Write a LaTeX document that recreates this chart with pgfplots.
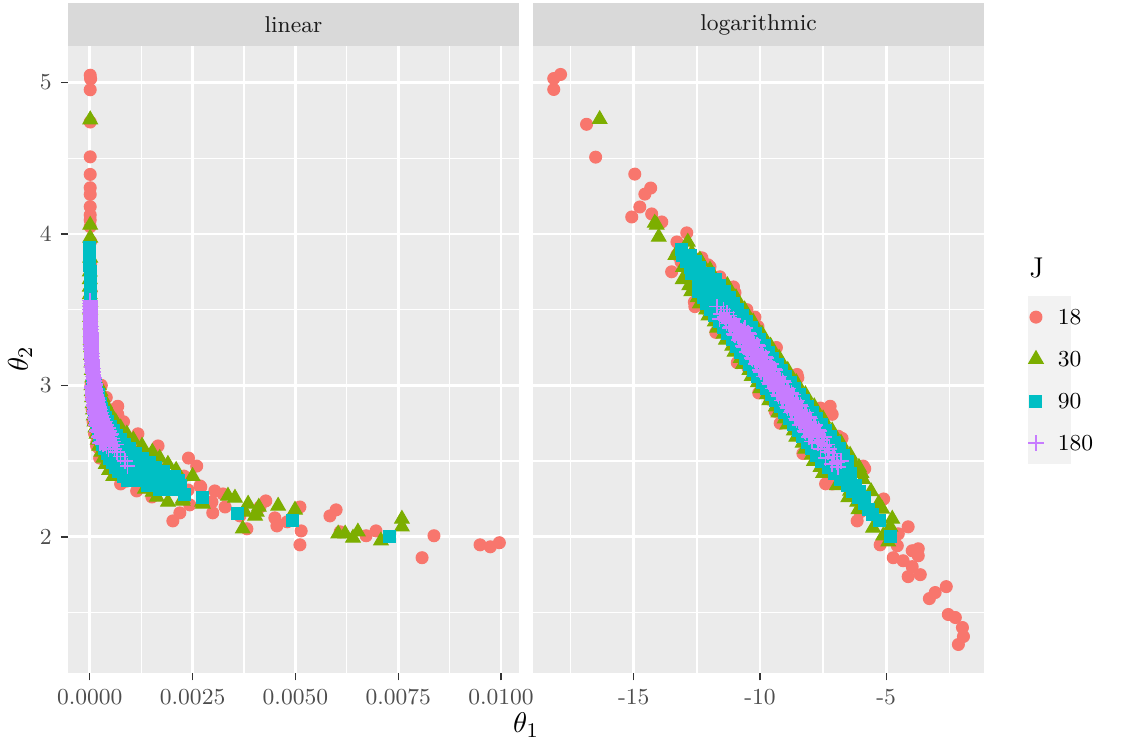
\documentclass[border=0pt]{standalone}
\usepackage{fontspec}
\usepackage{pgfplots}
\pgfplotsset{compat=1.18}
\definecolor{cA}{HTML}{F8766D}
\definecolor{cB}{HTML}{7CAE00}
\definecolor{cC}{HTML}{00BFC4}
\definecolor{cD}{HTML}{C77CFF}
\definecolor{panelbg}{HTML}{EBEBEB}
\definecolor{stripbg}{HTML}{D9D9D9}
\definecolor{keybg}{HTML}{F2F2F2}
\definecolor{ticktext}{HTML}{4D4D4D}
\definecolor{tickline}{HTML}{333333}
\definecolor{striptext}{HTML}{1A1A1A}
\newcommand{\ggsmall}{\fontsize{8.8}{10}\selectfont}

\pgfplotsset{
  facet/.style={
    scale only axis, width=173.4pt, height=241.0pt, anchor=south west,
    ymin=1.10, ymax=5.24,
    axis background/.style={fill=panelbg},
    axis line style={draw=none},
    grid=both,
    major grid style={white, line width=1.07pt},
    minor grid style={white, line width=0.53pt},
    tick align=outside, major tick length=2.75pt, minor tick length=0pt,
    tick style={tickline, line width=0.53pt},
    xtick pos=bottom, ytick pos=left,
    ytick={2,3,4,5}, minor ytick={1.5,2.5,3.5,4.5},
    ticklabel style={font=\ggsmall, text=ticktext},
    scaled x ticks=false,
  },
  p18/.style={only marks, mark=*, mark size=2.3pt, color=cA, mark options={draw=none}},
  p30/.style={only marks, mark=triangle*, mark size=3.2pt, color=cB, mark options={draw=none}},
  p90/.style={only marks, mark=square*, mark size=2.3pt, color=cC, mark options={draw=none}},
  p180/.style={only marks, mark=+, mark size=3.0pt, color=cD, mark options={line width=0.6pt}},
  lk/.style={legend image code/.code={\draw[##1, mark repeat=2, mark phase=2] plot coordinates {(0pt,0pt) (8.27pt,0pt) (16.54pt,0pt)};}},
}

\begin{document}
\begin{tikzpicture}
\path[use as bounding box] (0pt,0pt) rectangle (433.6pt,286.8pt);

% strips
\fill[stripbg] (26.14pt,269.1pt) rectangle (199.5pt,285.6pt);
\fill[stripbg] (204.9pt,269.1pt) rectangle (378.3pt,285.6pt);
\node[font=\ggsmall, text=striptext] at (112.8pt,277.4pt) {linear};
\node[font=\ggsmall, text=striptext] at (291.6pt,277.4pt) {logarithmic};

% legend key background and title
\fill[keybg] (395.2pt,108.4pt) rectangle (411.7pt,173.0pt);
\node[anchor=west, inner sep=0pt, font=\fontsize{11}{13}\selectfont] at (395.5pt,183.7pt) {J};

% axis titles
\node[font=\fontsize{11}{13}\selectfont] at (202.2pt,8.07pt) {$\theta_1$};
\node[font=\fontsize{11}{13}\selectfont, rotate=90] at (7.69pt,148.8pt) {$\theta_2$};

\begin{axis}[facet, at={(26.14pt,28.06pt)},
  xmin=-0.00053, xmax=0.01044,
  xtick={0,0.0025,0.005,0.0075,0.01},
  xticklabels={0.0000,0.0025,0.0050,0.0075,0.0100},
  minor xtick={0.00125,0.00375,0.00625,0.00875},
  yticklabels={2,3,4,5},
]
% J = 18
\addplot[p18] coordinates {
(0.00001,5.048)(0.00002,5.024)(0.00001,4.952)(0.00001,4.739)(0.00001,4.509)(0.00001,4.393)
(0.00001,4.305)(0.00001,4.261)(0.00001,4.180)(0.00001,4.125)(0.00001,4.092)(0.00001,4.048)
(0.00002,3.95)(0.00002,3.80)(0.00003,3.62)(0.00004,3.45)(0.00005,3.30)(0.00007,3.12)
(0.000028,3.00)(0.00028,3.00)(0.00004,2.92)(0.0004,2.92)(0.000057,2.84)(0.00057,2.84)
(0.00008,2.76)(0.00082,2.76)(0.000117,2.68)(0.00117,2.68)(0.000166,2.60)(0.00166,2.60)
(0.00024,2.52)(0.0024,2.52)
(0.00068,2.862)(0.00068,2.809)(0.00066,2.724)(0.00090,2.658)(0.00114,2.599)(0.00153,2.500)
(0.00260,2.467)(0.00207,2.401)(0.00229,2.401)(0.00268,2.336)(0.00075,2.349)(0.00114,2.303)
(0.00151,2.263)(0.00202,2.105)(0.00219,2.158)(0.00243,2.211)(0.00297,2.230)(0.00299,2.158)
(0.00304,2.303)(0.00324,2.283)(0.00329,2.197)(0.00365,2.138)(0.00382,2.053)(0.00428,2.237)
(0.00450,2.125)(0.00455,2.072)(0.00480,2.099)(0.00511,2.197)(0.00514,2.039)(0.00511,1.947)
(0.00584,2.138)(0.00599,2.178)(0.00609,2.033)(0.00672,2.007)(0.00696,2.039)(0.00808,1.862)
(0.00837,2.007)(0.00949,1.947)(0.00974,1.934)(0.00996,1.961)
(0.00017,2.625)(0.00024,2.579)(0.00037,2.526)(0.00054,2.447)(0.00090,2.368)(0.00134,2.329)
(0.00170,2.447)(0.00239,2.309)(0.00270,2.329)(0.00414,2.197)
};
% J = 30
\addplot[p30] coordinates {
(0.00001,4.755)(0.00001,4.059)(0.00001,3.974)(0.00001,3.842)(0,3.75)(0,3.70)(0,3.65)(0,3.60)
(0.00001,3.55)(0.00001,3.50)(0.00001,3.45)(0.00001,3.40)(0.00002,3.35)(0.00002,3.30)
(0.00003,3.25)(0.00003,3.20)(0.00004,3.15)(0.00005,3.10)(0.00006,3.05)
(0.00004,3.00)(0.00022,3.00)(0.000047,2.96)(0.00026,2.96)(0.000056,2.92)(0.00031,2.92)
(0.000067,2.88)(0.00037,2.88)(0.00008,2.84)(0.00044,2.84)(0.000096,2.80)(0.00053,2.80)
(0.000114,2.76)(0.00063,2.76)(0.000137,2.72)(0.00075,2.72)(0.000164,2.68)(0.0009,2.68)
(0.000194,2.64)(0.00106,2.64)(0.00023,2.60)(0.00127,2.60)(0.00028,2.56)(0.00152,2.56)
(0.00033,2.52)(0.00170,2.52)(0.00039,2.48)(0.00190,2.48)(0.00047,2.44)(0.0021,2.44)
(0.00057,2.40)(0.0025,2.40)(0.00075,2.43)(0.00100,2.40)
(0.00127,2.579)(0.00153,2.296)(0.00122,2.566)(0.00170,2.447)
(0.00134,2.316)(0.00163,2.263)(0.00190,2.230)(0.00226,2.250)(0.00273,2.230)(0.00336,2.270)
(0.00353,2.257)(0.00385,2.217)(0.00377,2.164)(0.00406,2.164)(0.00411,2.197)(0.00458,2.204)
(0.00499,2.178)(0.00372,2.053)(0.00604,2.020)(0.00621,2.020)(0.00640,1.993)(0.00652,2.033)
(0.00708,1.974)(0.00759,2.118)(0.00759,2.066)(0.00226,2.303)(0.00226,2.237)(0.00275,2.217)
(0.00402,2.138)
};
% J = 90
\addplot[p90] coordinates {
(0.000003,3.91)(0.000003,3.87)(0.000004,3.83)(0.000004,3.79)(0.000005,3.75)(0.000005,3.71)
(0.000006,3.67)(0.000007,3.63)(0.000008,3.59)(0.00001,3.55)(0.000011,3.51)(0.000013,3.47)
(0.000015,3.43)(0.000018,3.39)(0.000021,3.35)(0.000025,3.31)(0.00003,3.27)(0.000035,3.23)
(0.000042,3.19)(0.00005,3.15)(0.000059,3.11)(0.00007,3.07)(0.000083,3.03)
(0.000056,3.00)(0.000094,3.00)(0.00015,3.00)(0.000065,2.97)(0.000108,2.97)(0.00017,2.97)
(0.000074,2.94)(0.000123,2.94)(0.0002,2.94)(0.000084,2.91)(0.00014,2.91)(0.00022,2.91)
(0.000096,2.88)(0.00016,2.88)(0.00026,2.88)(0.00011,2.85)(0.000183,2.85)(0.00029,2.85)
(0.000126,2.82)(0.00021,2.82)(0.00034,2.82)(0.000143,2.79)(0.000238,2.79)(0.00038,2.79)
(0.000163,2.76)(0.00027,2.76)(0.00044,2.76)(0.000186,2.73)(0.00031,2.73)(0.0005,2.73)
(0.00021,2.70)(0.00036,2.70)(0.00057,2.70)(0.00024,2.67)(0.000408,2.67)(0.00065,2.67)
(0.00028,2.64)(0.00046,2.64)(0.00074,2.64)(0.00032,2.61)(0.00053,2.61)(0.00085,2.61)
(0.00036,2.58)(0.0006,2.58)(0.00097,2.58)(0.00042,2.55)(0.000693,2.55)(0.00111,2.55)
(0.00048,2.52)(0.00063,2.52)(0.00079,2.52)(0.001,2.52)(0.00127,2.52)
(0.00054,2.49)(0.0007,2.49)(0.0009,2.49)(0.00115,2.49)(0.00144,2.49)
(0.00062,2.46)(0.00082,2.46)(0.00103,2.46)(0.0013,2.46)(0.00160,2.46)
(0.00071,2.43)(0.00095,2.43)(0.00118,2.43)(0.0015,2.43)(0.00180,2.43)
(0.00081,2.40)(0.00108,2.40)(0.00135,2.40)(0.0017,2.40)(0.00205,2.40)
(0.00092,2.37)(0.0012,2.37)(0.00154,2.37)(0.0019,2.37)(0.00215,2.37)
(0.0014,2.34)(0.0017,2.34)(0.0022,2.34)(0.0017,2.31)(0.0020,2.31)(0.0023,2.28)
(0.00117,2.513)(0.00273,2.257)(0.00358,2.151)(0.00492,2.105)(0.00730,2.000)
};
% J = 180
\addplot[p180] coordinates {
(0.000009,3.56)(0.0000094,3.54)(0.00001,3.52)(0.000011,3.50)(0.000012,3.48)(0.000013,3.46)
(0.000014,3.44)(0.000016,3.42)(0.000017,3.40)(0.000019,3.38)(0.00002,3.36)(0.000022,3.34)
(0.000024,3.32)(0.000026,3.30)(0.000028,3.28)(0.000031,3.26)(0.000034,3.24)(0.000037,3.22)
(0.00004,3.20)(0.000044,3.18)(0.000047,3.16)(0.000052,3.14)(0.000057,3.12)(0.000061,3.10)
(0.000067,3.08)(0.000073,3.06)(0.000079,3.04)(0.000086,3.02)
(0.000013,3.55)(0.000013,3.53)(0.000014,3.51)(0.000015,3.49)(0.000016,3.47)(0.000018,3.45)
(0.000019,3.43)(0.000021,3.41)(0.000023,3.39)(0.000025,3.37)(0.000027,3.35)(0.00003,3.33)
(0.000033,3.31)(0.000035,3.29)(0.000039,3.27)(0.000042,3.25)(0.000046,3.23)(0.00005,3.21)
(0.000055,3.19)(0.00006,3.17)(0.000065,3.15)(0.00007,3.13)(0.000077,3.11)(0.000084,3.09)
(0.000092,3.07)(0.0001,3.05)(0.00011,3.03)(0.00012,3.01)
(0.00007,3.00)(0.000094,3.00)(0.000127,3.00)(0.000052,2.98)(0.000076,2.98)(0.000103,2.98)(0.000139,2.98)
(0.000084,2.96)(0.000113,2.96)(0.000153,2.96)(0.000062,2.94)(0.000091,2.94)(0.000123,2.94)(0.000166,2.94)
(0.000099,2.92)(0.000134,2.92)(0.000181,2.92)(0.000073,2.90)(0.000108,2.90)(0.000146,2.90)(0.000197,2.90)
(0.000118,2.88)(0.00016,2.88)(0.000216,2.88)(0.000088,2.86)(0.00013,2.86)(0.000175,2.86)(0.000236,2.86)
(0.000141,2.84)(0.000191,2.84)(0.000258,2.84)(0.000105,2.82)(0.000155,2.82)(0.00021,2.82)(0.000284,2.82)
(0.000169,2.80)(0.000229,2.80)(0.000309,2.80)(0.000124,2.78)(0.000184,2.78)(0.000248,2.78)(0.000335,2.78)
(0.000201,2.76)(0.000272,2.76)(0.000367,2.76)(0.000149,2.74)(0.00022,2.74)(0.000297,2.74)(0.0004,2.74)
(0.00024,2.72)(0.000325,2.72)(0.00044,2.72)(0.000178,2.70)(0.000263,2.70)(0.000356,2.70)(0.00048,2.70)
(0.000289,2.68)(0.00039,2.68)(0.00053,2.68)(0.000214,2.66)(0.000316,2.66)(0.000427,2.66)
(0.000343,2.64)(0.000463,2.64)(0.00025,2.62)(0.000374,2.62)(0.000505,2.62)
(0.00041,2.60)(0.000553,2.60)(0.00045,2.58)(0.000605,2.58)(0.00066,2.56)
(0.000059,2.99)(0.000118,2.99)(0.000065,2.97)(0.00013,2.97)(0.000071,2.95)(0.000142,2.95)
(0.000077,2.93)(0.000155,2.93)(0.000084,2.91)(0.000168,2.91)(0.000092,2.89)(0.000184,2.89)
(0.0001,2.87)(0.0002,2.87)(0.00011,2.85)(0.00022,2.85)(0.00012,2.83)(0.00024,2.83)
(0.000131,2.81)(0.000263,2.81)(0.000143,2.79)(0.000286,2.79)(0.000156,2.77)(0.000312,2.77)
(0.00017,2.75)(0.00034,2.75)(0.000186,2.73)(0.000372,2.73)(0.000204,2.71)(0.000408,2.71)
(0.000223,2.69)(0.000446,2.69)(0.000245,2.67)(0.00049,2.67)(0.000267,2.65)(0.000534,2.65)
(0.00029,2.63)(0.00058,2.63)(0.00032,2.61)(0.00064,2.61)
(0.00075,2.53)(0.00086,2.50)(0.00092,2.467)
};
\end{axis}

\begin{axis}[facet, at={(204.9pt,28.06pt)},
  xmin=-18.99, xmax=-1.12,
  xtick={-15,-10,-5},
  xticklabels={-15,-10,-5},
  minor xtick={-17.5,-12.5,-7.5,-2.5},
  yticklabels={},
  y tick style={draw=none},
  legend style={at={(1.0976,0.6013)}, anchor=north west, draw=none, fill=none,
    font=\ggsmall, inner sep=0pt, outer sep=0pt, row sep=0pt, column sep=5.4pt,
    nodes={inner sep=0pt, text height=11pt, text depth=5.15pt}},
  legend cell align=left,
]
% J = 18
\addplot[p18, lk] coordinates {
(-18.17,5.026)(-17.90,5.053)(-18.17,4.954)(-16.87,4.724)(-16.51,4.507)(-14.96,4.395)
(-14.33,4.303)(-14.56,4.263)(-14.76,4.178)(-15.08,4.112)(-14.29,4.132)(-13.89,4.079)
(-12.90,4.007)(-13.29,3.947)(-13.29,3.862)(-13.13,3.816)(-12.30,3.842)(-12.06,3.796)
(-11.51,3.684)(-10.99,3.612)(-12.58,3.645)(-12.38,3.579)(-12.58,3.520)(-12.18,3.520)
(-11.59,3.382)(-10.52,3.500)(-10.28,3.414)(-11.98,3.783)(-11.59,3.717)(-10.08,3.388)
(-10.48,3.118)(-9.60,2.908)(-9.40,2.829)(-8.53,3.072)(-7.22,2.862)(-7.14,2.809)
(-7.50,2.829)(-6.90,2.664)(-5.91,2.467)(-8.13,2.599)(-7.62,2.513)(-8.93,2.776)
(-8.69,2.730)(-7.14,2.349)(-6.15,2.105)(-6.03,2.164)(-5.24,1.947)(-4.13,2.066)
(-4.52,2.020)(-4.56,1.941)(-3.97,1.908)(-3.73,1.921)(-3.73,1.875)(-4.72,1.862)
(-4.33,1.842)(-3.97,1.803)(-4.13,1.737)(-3.65,1.750)(-2.62,1.671)(-3.06,1.632)
(-3.29,1.592)(-2.54,1.487)(-2.26,1.467)(-1.98,1.401)(-1.94,1.342)(-2.14,1.289)
(-13.50,3.75)(-11.05,3.65)(-12.60,3.55)(-10.20,3.45)(-11.75,3.35)(-9.35,3.25)
(-10.90,3.15)(-8.50,3.05)(-10.05,2.95)(-7.60,2.85)(-9.20,2.75)(-6.75,2.65)
(-8.30,2.55)(-5.85,2.45)(-7.40,2.35)(-5.10,2.25)
};
\addlegendentry{18}
% J = 30
\addplot[p30, lk] coordinates {
(-16.35,4.757)(-14.17,4.072)(-14.09,4.059)(-14.01,3.980)(-12.86,3.947)(-12.70,3.875)
(-12.38,3.829)(-11.98,3.763)(-11.98,3.500)(-11.67,3.447)
(-13.35,3.86)(-12.35,3.82)(-13.05,3.78)(-12.00,3.74)
(-13.06,3.70)(-11.29,3.66)(-12.72,3.62)(-10.95,3.58)(-12.38,3.54)(-10.61,3.50)
(-12.04,3.46)(-10.27,3.42)(-11.69,3.38)(-9.92,3.34)(-11.35,3.30)(-9.58,3.26)
(-11.01,3.22)(-9.24,3.18)(-10.67,3.14)(-8.90,3.10)(-10.33,3.06)(-8.56,3.02)
(-9.98,2.98)(-8.20,2.94)(-9.63,2.90)(-7.85,2.86)(-9.27,2.82)(-7.50,2.78)
(-8.92,2.74)(-7.14,2.70)(-8.56,2.66)(-6.79,2.62)(-8.21,2.58)(-6.43,2.54)
(-7.86,2.50)(-6.08,2.46)(-7.50,2.42)(-5.92,2.38)(-6.95,2.34)(-5.60,2.30)
(-6.50,2.26)(-5.30,2.22)(-6.10,2.18)
(-12.80,3.66)(-11.20,3.62)(-12.47,3.58)(-10.86,3.54)(-12.13,3.50)(-10.52,3.46)
(-11.79,3.42)(-10.17,3.38)(-11.44,3.34)(-9.83,3.30)(-11.10,3.26)(-9.49,3.22)
(-10.76,3.18)(-9.15,3.14)(-10.42,3.10)(-8.81,3.06)(-10.08,3.02)(-8.46,2.98)
(-9.72,2.94)(-8.11,2.90)(-9.37,2.86)(-7.75,2.82)(-9.02,2.78)(-7.40,2.74)
(-8.66,2.70)(-7.04,2.66)(-8.31,2.62)(-6.69,2.58)(-7.95,2.54)(-6.34,2.50)
(-7.60,2.46)(-5.98,2.42)
(-4.84,2.066)(-4.76,2.118)(-4.92,1.967)(-5.12,2.007)(-5.52,2.059)(-6.43,2.303)
(-6.15,2.230)(-5.91,2.204)(-5.16,2.184)
};
\addlegendentry{30}
% J = 90
\addplot[p90, lk] coordinates {
(-13.10,3.90)(-13.05,3.86)(-12.75,3.86)(-12.90,3.82)(-12.55,3.82)(-12.75,3.78)(-12.40,3.78)
(-12.70,3.74)(-12.35,3.74)(-12.05,3.74)
(-12.45,3.70)(-12.10,3.70)(-11.75,3.70)
(-12.30,3.66)(-11.95,3.66)(-11.60,3.66)
(-12.45,3.62)(-12.10,3.62)(-11.75,3.62)(-11.40,3.62)
(-12.25,3.58)(-11.90,3.58)(-11.55,3.58)(-11.20,3.58)
(-12.10,3.54)(-11.75,3.54)(-11.40,3.54)(-11.05,3.54)
(-11.95,3.50)(-11.60,3.50)(-11.25,3.50)(-10.90,3.50)
(-11.80,3.46)(-11.45,3.46)(-11.05,3.46)(-10.70,3.46)
(-11.60,3.42)(-11.25,3.42)(-10.90,3.42)(-10.55,3.42)
(-11.45,3.38)(-10.35,3.38)(-11.27,3.34)(-10.17,3.34)(-11.10,3.30)(-10.00,3.30)
(-10.93,3.26)(-9.83,3.26)(-10.76,3.22)(-9.66,3.22)(-10.59,3.18)(-9.49,3.18)
(-10.42,3.14)(-9.32,3.14)(-10.25,3.10)(-9.15,3.10)(-10.08,3.06)(-8.98,3.06)
(-9.91,3.02)(-8.81,3.02)(-9.73,2.98)(-8.63,2.98)(-9.55,2.94)(-8.45,2.94)
(-9.38,2.90)(-8.28,2.90)(-9.20,2.86)(-8.10,2.86)(-9.02,2.82)(-7.92,2.82)
(-8.85,2.78)(-7.75,2.78)(-8.67,2.74)(-7.57,2.74)(-8.49,2.70)(-7.39,2.70)
(-8.31,2.66)(-7.96,2.66)(-7.56,2.66)(-7.21,2.66)
(-8.10,2.62)(-7.75,2.62)(-7.40,2.62)(-7.05,2.62)
(-7.95,2.58)(-7.60,2.58)(-7.20,2.58)(-6.85,2.58)
(-7.75,2.54)(-7.40,2.54)(-7.05,2.54)(-6.70,2.54)
(-7.55,2.50)(-7.20,2.50)(-6.85,2.50)(-6.55,2.50)
(-7.30,2.46)(-6.95,2.46)(-6.60,2.46)(-7.05,2.42)(-6.70,2.42)(-6.40,2.42)
(-6.80,2.38)(-6.45,2.38)(-6.55,2.34)(-6.20,2.34)(-6.35,2.30)(-6.05,2.30)
(-6.10,2.26)(-5.85,2.26)(-5.85,2.22)(-5.70,2.18)(-5.56,2.15)(-5.28,2.105)(-4.84,2.00)
};
\addlegendentry{90}
% J = 180
\addplot[p180, lk] coordinates {
(-11.71,3.52)(-11.45,3.50)(-11.31,3.48)(-11.40,3.45)(-11.05,3.44)(-11.25,3.42)(-10.95,3.40)
(-11.55,3.47)(-11.20,3.46)(-11.60,3.44)(-11.35,3.43)
(-11.19,3.38)(-10.89,3.38)(-10.59,3.38)(-10.96,3.36)(-10.66,3.36)
(-11.02,3.34)(-10.72,3.34)(-10.42,3.34)(-10.79,3.32)(-10.49,3.32)
(-10.85,3.30)(-10.55,3.30)(-10.25,3.30)(-10.62,3.28)(-10.32,3.28)
(-10.68,3.26)(-10.38,3.26)(-10.08,3.26)(-10.45,3.24)(-10.15,3.24)
(-10.51,3.22)(-10.21,3.22)(-9.91,3.22)(-10.28,3.20)(-9.98,3.20)
(-10.34,3.18)(-10.04,3.18)(-9.74,3.18)(-10.11,3.16)(-9.81,3.16)
(-10.17,3.14)(-9.87,3.14)(-9.57,3.14)(-9.93,3.12)(-9.63,3.12)
(-10.00,3.10)(-9.70,3.10)(-9.40,3.10)(-9.76,3.08)(-9.46,3.08)
(-9.83,3.06)(-9.53,3.06)(-9.23,3.06)(-9.59,3.04)(-9.29,3.04)
(-9.66,3.02)(-9.36,3.02)(-9.06,3.02)(-9.42,3.00)(-9.12,3.00)
(-9.48,2.98)(-9.18,2.98)(-8.88,2.98)(-9.24,2.96)(-8.94,2.96)
(-9.30,2.94)(-9.00,2.94)(-8.70,2.94)(-9.07,2.92)(-8.77,2.92)
(-9.13,2.90)(-8.83,2.90)(-8.53,2.90)(-8.89,2.88)(-8.59,2.88)
(-8.95,2.86)(-8.65,2.86)(-8.35,2.86)(-8.71,2.84)(-8.41,2.84)
(-8.77,2.82)(-8.47,2.82)(-8.17,2.82)(-8.53,2.80)(-8.23,2.80)
(-8.60,2.78)(-8.30,2.78)(-8.00,2.78)(-8.36,2.76)(-8.06,2.76)
(-8.42,2.74)(-8.12,2.74)(-7.82,2.74)(-8.18,2.72)(-7.88,2.72)
(-8.24,2.70)(-7.94,2.70)(-7.64,2.70)(-8.00,2.68)(-7.70,2.68)
(-8.06,2.66)(-7.76,2.66)(-7.46,2.66)
(-11.32,3.41)(-11.02,3.41)(-11.14,3.39)(-10.84,3.39)(-10.95,3.37)(-10.65,3.37)
(-10.77,3.35)(-10.47,3.35)(-10.98,3.33)(-10.68,3.33)(-10.80,3.31)(-10.50,3.31)
(-10.61,3.29)(-10.31,3.29)(-10.42,3.27)(-10.12,3.27)(-10.64,3.25)(-10.34,3.25)
(-10.45,3.23)(-10.15,3.23)(-10.27,3.21)(-9.97,3.21)(-10.08,3.19)(-9.78,3.19)
(-10.30,3.17)(-10.00,3.17)(-10.11,3.15)(-9.81,3.15)(-9.93,3.13)(-9.63,3.13)
(-9.74,3.11)(-9.44,3.11)(-9.96,3.09)(-9.66,3.09)(-9.77,3.07)(-9.47,3.07)
(-9.59,3.05)(-9.29,3.05)(-9.40,3.03)(-9.10,3.03)(-9.61,3.01)(-9.31,3.01)
(-9.43,2.99)(-9.13,2.99)(-9.24,2.97)(-8.94,2.97)(-9.05,2.95)(-8.75,2.95)
(-9.26,2.93)(-8.96,2.93)(-9.07,2.91)(-8.77,2.91)(-8.88,2.89)(-8.58,2.89)
(-8.69,2.87)(-8.39,2.87)(-8.91,2.85)(-8.61,2.85)(-8.72,2.83)(-8.42,2.83)
(-8.53,2.81)(-8.23,2.81)(-8.34,2.79)(-8.04,2.79)(-8.55,2.77)(-8.25,2.77)
(-8.36,2.75)(-8.06,2.75)(-8.17,2.73)(-7.87,2.73)(-7.99,2.71)(-7.69,2.71)
(-8.20,2.69)(-7.90,2.69)(-8.01,2.67)(-7.71,2.67)
(-7.55,2.64)(-7.95,2.63)(-7.35,2.61)(-7.70,2.62)(-7.45,2.60)(-7.60,2.58)(-7.25,2.58)
(-7.30,2.559)(-7.05,2.55)(-7.40,2.52)(-7.10,2.53)(-6.80,2.50)(-6.94,2.493)(-7.15,2.48)(-6.90,2.461)
};
\addlegendentry{180}
\end{axis}
\end{tikzpicture}
\end{document}
